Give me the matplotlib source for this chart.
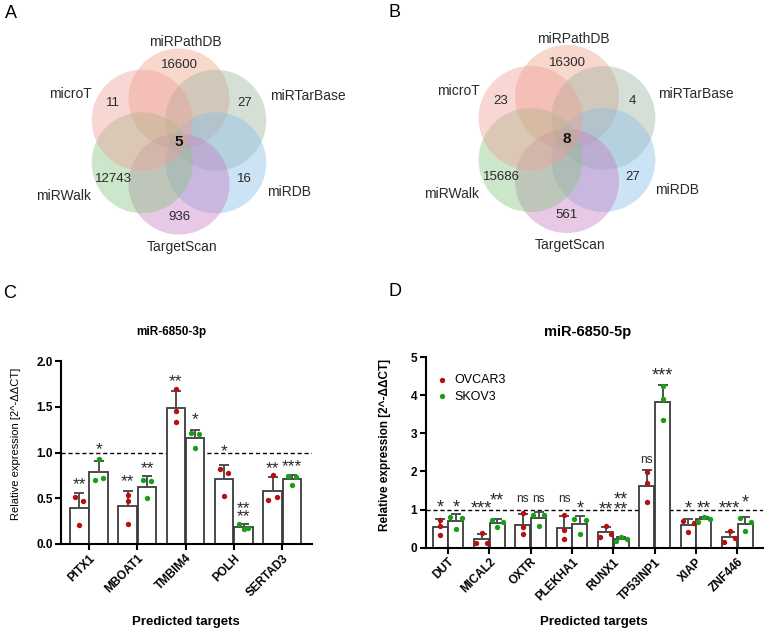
import numpy as np
import matplotlib.pyplot as plt
from matplotlib.patches import Circle

plt.rcParams['font.family'] = ['Liberation Sans', 'DejaVu Sans']

W, H = 764, 631

# ---- venn diagrams (sets listed clockwise from the top circle)
venn_sets = ['miRPathDB', 'miRTarBase', 'miRDB', 'TargetScan', 'miRWalk', 'microT']
venn_colors = ['#f0a087', '#9fb59f', '#87bee8', '#c87cc3', '#87c57f', '#ee9f98']
counts_a = [16600, 27, 16, 936, 12743, 11]
core_a = 5
counts_b = [16300, 4, 27, 561, 15686, 23]
core_b = 8

# ---- qPCR replicates, miR-6850-3p
genes_3p = ['PITX1', 'MBOAT1', 'TMBIM4', 'POLH', 'SERTAD3']
ovcar3_3p = [[0.51, 0.47, 0.205],
             [0.54, 0.47, 0.22],
             [1.69, 1.45, 1.33],
             [0.82, 0.78, 0.53],
             [0.48, 0.51, 0.755]]
skov3_3p = [[0.70, 0.72, 0.93],
            [0.70, 0.685, 0.50],
            [1.21, 1.205, 1.05],
            [0.22, 0.165, 0.17],
            [0.74, 0.73, 0.65]]
sig_ovcar3_3p = ['**', '**', '**', '*', '**']
sig_skov3_3p = ['*', '**', '*', '****', '***']

# ---- qPCR replicates, miR-6850-5p
genes_5p = ['DUT', 'MICAL2', 'OXTR', 'PLEKHA1', 'RUNX1', 'TP53INP1', 'XIAP', 'ZNF446']
ovcar3_5p = [[0.73, 0.56, 0.32],
             [0.13, 0.13, 0.39],
             [0.91, 0.55, 0.36],
             [0.87, 0.46, 0.23],
             [0.285, 0.37, 0.56],
             [1.99, 1.70, 1.19],
             [0.71, 0.66, 0.40],
             [0.16, 0.26, 0.43]]
skov3_5p = [[0.81, 0.79, 0.50],
            [0.725, 0.67, 0.535],
            [0.87, 0.86, 0.58],
            [0.76, 0.72, 0.35],
            [0.17, 0.285, 0.24],
            [4.23, 3.89, 3.34],
            [0.68, 0.80, 0.76],
            [0.77, 0.68, 0.45]]
sig_ovcar3_5p = ['*', '***', 'ns', 'ns', '**', 'ns', '*', '***']
sig_skov3_5p = ['*', '**', 'ns', '*', '****', '***', '**', '*']

# annotation heights (data units) - placed by hand in the original
sig_y_ovcar3_3p = [0.71, 0.74, 1.84, 1.07, 0.88]
sig_y_skov3_3p = [1.09, 0.89, 1.42, 0.36, 0.905]
sig_y_ovcar3_5p = [1.19, 1.17, 1.28, 1.28, 1.15, 2.31, 1.17, 1.17]
sig_y_skov3_5p = [1.19, 1.38, 1.28, 1.17, 1.15, 4.66, 1.17, 1.34]

RED = '#b80f0f'
GREEN = '#17a017'
TXT = '#2a2a2a'

fig = plt.figure(figsize=(W / 100, H / 100), dpi=100)

# ---------------- venn panels
axv = fig.add_axes([0, (H - 290) / H, 1, 290 / H])
axv.set_xlim(0, W)
axv.set_ylim(290, 0)
axv.axis('off')

name_off = [(6, -100), (129, -45), (110, 51), (3, 106), (-115, 55), (-109, -48)]


def venn6(ax, cx, cy, ring, rad, counts, core):
    ang = np.deg2rad([-90, -30, 30, 90, 150, 210])
    for a, col in zip(ang, venn_colors):
        ax.add_patch(Circle((cx + ring * np.cos(a), cy + ring * np.sin(a)), rad,
                            fc=col, ec='none', alpha=0.42))
    for a, n in zip(ang, counts):
        ax.text(cx + 76 * np.cos(a), cy + 76 * np.sin(a), str(n), ha='center',
                va='center', fontsize=9.5, color=TXT)
    for (dx, dy), name in zip(name_off, venn_sets):
        ax.text(cx + dx, cy + dy, name, ha='center', va='center', fontsize=10, color=TXT)
    ax.text(cx, cy, str(core), ha='center', va='center', fontsize=11,
            fontweight='bold', color='#111111')


venn6(axv, 179, 141.5, 42.5, 50.5, counts_a, core_a)
venn6(axv, 567, 139, 42, 52, counts_b, core_b)

for lab, px, py in (('A', 10.5, 13.5), ('B', 395, 12.5), ('C', 10, 293.5), ('D', 395, 291.5)):
    fig.text(px / W, 1 - py / H, lab, ha='center', va='center', fontsize=13)


# ---------------- bar panels
def swarm(vals, thr, d):
    vals = np.asarray(vals)
    order = np.argsort(vals)
    offs = np.zeros(len(vals))
    groups = [[order[0]]]
    for i in order[1:]:
        if vals[i] - vals[groups[-1][-1]] < thr:
            groups[-1].append(i)
        else:
            groups.append([i])
    for g in groups:
        g = sorted(g)
        if len(g) == 2:
            offs[g] = [-d, d]
        elif len(g) == 3:
            offs[g] = [-d, 0, d]
    return offs


def put_sig(ax, x, y, lab, fs):
    if lab == 'ns':
        ax.annotate(lab, (x, y), xytext=(0, -0.26 * 8.5), textcoords='offset points',
                    ha='center', va='baseline', fontsize=8.5, color=TXT,
                    annotation_clip=False)
        return
    text = '**\n**' if lab == '****' else lab
    ax.annotate(text, (x, y), xytext=(0, -0.58 * fs), textcoords='offset points',
                ha='center', va='baseline', fontsize=fs, color=TXT, linespacing=0.45,
                annotation_clip=False)


def bar_panel(ax, genes, red, green, sr, sg, yr, yg, off, bw, thr, d, fs):
    x = np.arange(len(genes))
    for dx, reps, col, sig, sy in ((-off, red, RED, sr, yr), (off, green, GREEN, sg, yg)):
        reps = np.array(reps)
        m = reps.mean(1)
        sd = reps.std(1, ddof=1)
        ax.bar(x + dx, m, width=bw, color='white', edgecolor='#3c3c3c', lw=1.3, zorder=2)
        ax.errorbar(x + dx, m, yerr=[np.zeros_like(sd), sd], fmt='none', ecolor='#505050',
                    elinewidth=1.4, capsize=3.5, capthick=1.4, zorder=3)
        for xi, vals in zip(x + dx, reps):
            ax.scatter(xi + swarm(vals, thr, d), vals, s=15, color=col, lw=0, zorder=4,
                       clip_on=False)
        for xi, lab, yy in zip(x + dx, sig, sy):
            put_sig(ax, xi, yy, lab, fs)
    ax.axhline(1, color='black', lw=1, ls=(0, (3, 2)), zorder=1)
    ax.set_xticks(x)
    ax.set_xticklabels(genes, rotation=45, ha='right', va='top', rotation_mode='anchor',
                       fontweight='bold', fontsize=8.5)
    ax.spines[['top', 'right']].set_visible(False)
    ax.spines[['left', 'bottom']].set_linewidth(1.5)
    ax.tick_params(width=1.5, length=4, labelsize=8.5, pad=2)
    for t in ax.get_yticklabels():
        t.set_fontweight('bold')
    ax.set_xlabel('Predicted targets', fontweight='bold', fontsize=9.5)


axC = fig.add_axes([61 / W, (H - 544) / H, 250.7 / W, 183 / H])
bar_panel(axC, genes_3p, ovcar3_3p, skov3_3p, sig_ovcar3_3p, sig_skov3_3p,
          sig_y_ovcar3_3p, sig_y_skov3_3p, 0.2, 0.38, 0.06, 0.085, 12.5)
axC.set_xlim(-0.58, 4.61)
axC.set_ylim(0, 2.0)
axC.set_yticks([0, 0.5, 1.0, 1.5, 2.0], ['0.0', '0.5', '1.0', '1.5', '2.0'], fontweight='bold')
axC.set_ylabel('Relative expression [2^-ΔΔCT]', fontsize=8)
axC.yaxis.set_label_coords(-0.16, 0.546)
axC.xaxis.set_label_coords(0.5, -0.393)

axD = fig.add_axes([425.7 / W, (H - 547.7) / H, 337.3 / W, 190.7 / H])
bar_panel(axD, genes_5p, ovcar3_5p, skov3_5p, sig_ovcar3_5p, sig_skov3_5p,
          sig_y_ovcar3_5p, sig_y_skov3_5p, 0.19, 0.36, 0.11, 0.137, 13)
axD.set_xlim(-0.54, 7.62)
axD.set_ylim(0, 5)
axD.set_yticks(range(6), [str(i) for i in range(6)], fontweight='bold')
axD.set_ylabel('Relative expression [2^-ΔΔCT]', fontsize=8.5, fontweight='bold')
axD.yaxis.set_label_coords(-0.104, 0.539)
axD.xaxis.set_label_coords(0.5, -0.358)

hr = axD.scatter([], [], s=15, color=RED, lw=0)
hg = axD.scatter([], [], s=15, color=GREEN, lw=0)
axD.legend([hr, hg], ['OVCAR3', 'SKOV3'], loc='upper left', bbox_to_anchor=(0.0305, 0.91),
           frameon=False, fontsize=9, handlelength=1, handletextpad=0.44, labelspacing=0.36,
           borderpad=0, borderaxespad=0)

fig.text(171 / W, 1 - 332 / H, 'miR-6850-3p', ha='center', va='center', fontsize=8.5,
         fontweight='bold')
fig.text(588 / W, 1 - 332 / H, 'miR-6850-5p', ha='center', va='center', fontsize=10.5,
         fontweight='bold')

fig.savefig('out.png', dpi=100)
